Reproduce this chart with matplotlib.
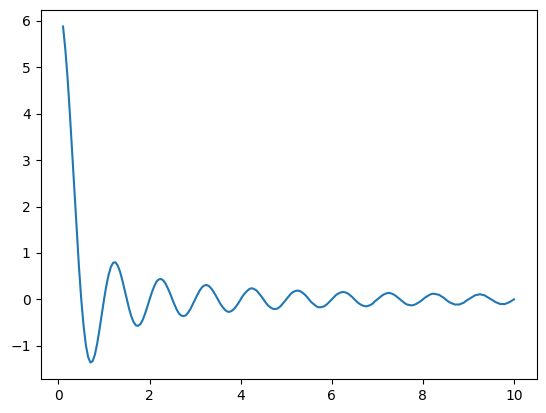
import numpy as np
import matplotlib
matplotlib.use("Agg")
import matplotlib.pyplot as plt

# sample positions along x (0.1 .. 10, step 0.05)
x = np.linspace(0.1, 10.0, 199)

# y values at those positions
y = [
    5.88, 5.39, 4.76, 4.00, 3.17, 2.31, 1.47, 0.69, 0.00, -0.56,
    -0.98, -1.24, -1.36, -1.33, -1.19, -0.95, -0.65, -0.33,
    0.00, 0.29, 0.53, 0.70, 0.79, 0.80, 0.73, 0.60, 0.42, 0.21,
    0.00, -0.20, -0.37, -0.49, -0.56, -0.57, -0.53, -0.44, -0.31, -0.16,
    0.00, 0.15, 0.28, 0.38, 0.43, 0.44, 0.41, 0.34, 0.24, 0.13,
    0.00, -0.12, -0.23, -0.31, -0.35, -0.36, -0.34, -0.28, -0.20, -0.10,
    0.00, 0.10, 0.19, 0.26, 0.30, 0.31, 0.29, 0.24, 0.17, 0.09,
    0.00, -0.09, -0.16, -0.22, -0.26, -0.27, -0.25, -0.21, -0.15, -0.08,
    0.00, 0.08, 0.14, 0.19, 0.23, 0.24, 0.22, 0.19, 0.13, 0.07,
    0.00, -0.07, -0.13, -0.17, -0.20, -0.21, -0.20, -0.17, -0.12, -0.06,
    0.00, 0.06, 0.12, 0.16, 0.18, 0.19, 0.18, 0.15, 0.11, 0.06,
    0.00, -0.06, -0.10, -0.14, -0.17, -0.17, -0.16, -0.14, -0.10, -0.05,
    0.00, 0.05, 0.10, 0.13, 0.15, 0.16, 0.15, 0.13, 0.09, 0.05,
    0.00, -0.05, -0.09, -0.12, -0.14, -0.15, -0.14, -0.12, -0.09, -0.04,
    0.00, 0.04, 0.08, 0.11, 0.13, 0.14, 0.13, 0.11, 0.08, 0.04,
    0.00, -0.04, -0.08, -0.11, -0.12, -0.13, -0.12, -0.10, -0.07, -0.04,
    0.00, 0.04, 0.07, 0.10, 0.12, 0.12, 0.11, 0.10, 0.07, 0.04,
    0.00, -0.04, -0.07, -0.09, -0.11, -0.11, -0.11, -0.09, -0.07, -0.03,
    0.00, 0.03, 0.06, 0.09, 0.10, 0.11, 0.10, 0.09, 0.06, 0.03,
    0.00, -0.03, -0.06, -0.08, -0.10, -0.10, -0.10, -0.08, -0.06, -0.03,
    0.00,
]

fig = plt.figure(figsize=(5.46, 4.13), dpi=100)
ax = fig.add_axes([40.5 / 546, (413 - 379.3) / 413, 496 / 546, 369.6 / 413])
ax.plot(x, y)
fig.savefig("out.png", dpi=100)
